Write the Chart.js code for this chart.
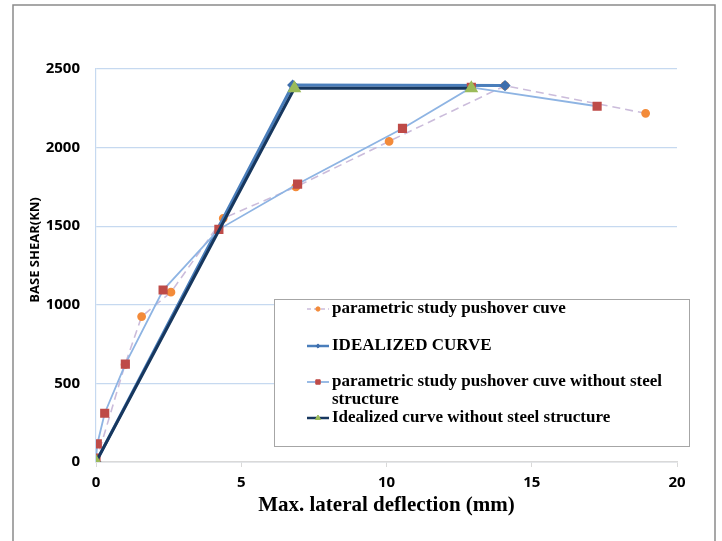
<!DOCTYPE html>
<html>
<head>
<meta charset="utf-8">
<script src="https://cdn.jsdelivr.net/npm/chart.js@4/dist/chart.umd.min.js"></script>
<style>
  html, body { margin: 0; padding: 0; background: #fff; }
  #pushoverChart { display: block; }
</style>
</head>
<body>
<canvas id="pushoverChart" width="722" height="541"></canvas>
<script>
// values: deflection (mm) / base shear (kN)
const pushoverX = [0, 1.0, 1.57, 2.58, 4.38, 6.88, 10.09, 14.08, 18.92];
const pushoverY = [0, 620, 925, 1080, 1550, 1750, 2040, 2394, 2218];

const idealX = [0, 6.77, 14.08];
const idealY = [0, 2398, 2395];

const noSteelX = [0, 0.045, 0.3, 1.01, 2.31, 4.23, 6.94, 10.55, 12.92, 17.25];
const noSteelY = [25, 115, 310, 623, 1094, 1480, 1768, 2122, 2383, 2263];

const idealNoSteelX = [0, 6.83, 12.92];
const idealNoSteelY = [0, 2377, 2377];

const seriesNames = [
    'parametric study pushover cuve',
    'IDEALIZED CURVE',
    'parametric study pushover cuve without steel structure',
    'Idealized curve without steel structure'
];

const xTicks = [0, 5, 10, 15, 20];
const yTicks = [0, 500, 1000, 1500, 2000, 2500];

function toPoints(xs, ys) {
    return xs.map((x, i) => ({ x: x, y: ys[i] }));
}

// draws the frame, the y title and the boxed legend (Excel style)
const excelDecor = {
    id: 'excelDecor',
    afterDatasetsDraw(chart) {
        const ctx = chart.ctx;
        ctx.save();

        // outer frame
        ctx.strokeStyle = '#8a8a8a';
        ctx.lineWidth = 1.5;
        ctx.strokeRect(13, 5, 702, 620);

        // y axis title
        ctx.save();
        ctx.translate(35, 250);
        ctx.rotate(-Math.PI / 2);
        ctx.font = 'bold 13px "Open Sans"';
        ctx.fillStyle = '#000';
        ctx.textAlign = 'center';
        ctx.textBaseline = 'middle';
        ctx.fillText('BASE SHEAR(KN)', 0, 0);
        ctx.restore();

        // legend box
        const box = { left: 274, top: 299, right: 689, bottom: 446 };
        ctx.fillStyle = '#fff';
        ctx.fillRect(box.left, box.top, box.right - box.left, box.bottom - box.top);
        ctx.strokeStyle = '#a6a6a6';
        ctx.lineWidth = 1;
        ctx.strokeRect(box.left + 0.5, box.top + 0.5, box.right - box.left, box.bottom - box.top);

        const rowY = [309, 346, 382, 418];
        const textX = 332;
        const maxW = box.right - textX - 8;
        ctx.font = 'bold 17px "Liberation Serif"';
        ctx.textBaseline = 'middle';
        ctx.textAlign = 'left';

        chart.data.datasets.forEach((ds, i) => {
            const y = rowY[i];
            // line sample
            ctx.save();
            ctx.strokeStyle = ds.borderColor;
            ctx.lineWidth = Math.min(ds.borderWidth, 2.5);
            ctx.setLineDash(ds.borderDash ? [4, 3] : []);
            ctx.beginPath();
            ctx.moveTo(307, y);
            ctx.lineTo(329, y);
            ctx.stroke();
            ctx.restore();
            // marker
            ctx.save();
            ctx.fillStyle = ds.pointBackgroundColor;
            ctx.strokeStyle = ds.pointBorderColor;
            Chart.helpers.drawPoint(ctx, {
                pointStyle: ds.pointStyle,
                radius: ds.pointRadius * 0.6,
                rotation: 0,
                borderWidth: 1
            }, 318, y);
            ctx.restore();

            // label, wrapped to the box width
            ctx.fillStyle = '#000';
            const words = ds.label.split(' ');
            let line = '';
            let ly = y;
            words.forEach(w => {
                const test = line ? line + ' ' + w : w;
                if (ctx.measureText(test).width > maxW && line) {
                    ctx.fillText(line, textX, ly);
                    line = w;
                    ly += 18;
                } else {
                    line = test;
                }
            });
            ctx.fillText(line, textX, ly);
        });

        ctx.restore();
    }
};

const ctx = document.getElementById('pushoverChart').getContext('2d');

new Chart(ctx, {
    type: 'scatter',
    data: {
        datasets: [{
            label: seriesNames[0],
            data: toPoints(pushoverX, pushoverY),
            showLine: true,
            borderColor: '#cbbcdb',
            borderWidth: 1.6,
            borderDash: [8, 5],
            pointStyle: 'circle',
            pointRadius: 3.6,
            pointBackgroundColor: '#f38b3a',
            pointBorderColor: '#f38b3a',
            order: 4
        }, {
            label: seriesNames[1],
            data: toPoints(idealX, idealY),
            showLine: true,
            borderColor: '#4a7ebb',
            borderWidth: 3,
            pointStyle: 'rectRot',
            pointRadius: 3.5,
            pointBackgroundColor: '#3f6fad',
            pointBorderColor: '#3f6fad',
            order: 3
        }, {
            label: seriesNames[2],
            data: toPoints(noSteelX, noSteelY),
            showLine: true,
            borderColor: '#8eb4e3',
            borderWidth: 1.8,
            pointStyle: 'rect',
            pointRadius: 5.2,
            pointBackgroundColor: '#be4b48',
            pointBorderColor: '#be4b48',
            order: 2
        }, {
            label: seriesNames[3],
            data: toPoints(idealNoSteelX, idealNoSteelY),
            showLine: true,
            borderColor: '#17375e',
            borderWidth: 3,
            pointStyle: 'triangle',
            pointRadius: 5,
            pointBackgroundColor: '#9bbb59',
            pointBorderColor: '#9bbb59',
            order: 1
        }]
    },
    options: {
        responsive: false,
        animation: false,
        layout: {
            padding: { left: 0, top: 69, right: 45, bottom: 0 }
        },
        plugins: {
            legend: { display: false },
            tooltip: { enabled: false }
        },
        elements: {
            line: { tension: 0 }
        },
        scales: {
            x: {
                type: 'linear',
                min: xTicks[0],
                max: xTicks[xTicks.length - 1],
                afterFit: (scale) => { scale.height = 79; },
                afterBuildTicks: (scale) => { scale.ticks = xTicks.map(v => ({ value: v })); },
                grid: {
                    drawOnChartArea: false,
                    drawTicks: true,
                    tickLength: 5,
                    color: '#d9d9d9'
                },
                border: { color: '#d9d9d9', width: 1.5 },
                ticks: {
                    padding: 7,
                    color: '#000',
                    font: { family: '"Open Sans"', size: 15, weight: 'bold' },
                    callback: (v) => String(v)
                },
                title: {
                    display: true,
                    text: 'Max. lateral deflection (mm)',
                    color: '#000',
                    font: { family: '"Liberation Serif"', size: 21, weight: 'bold' },
                    padding: { top: 0, bottom: 23 }
                }
            },
            y: {
                type: 'linear',
                min: yTicks[0],
                max: yTicks[yTicks.length - 1],
                afterFit: (scale) => { scale.width = 96; },
                afterBuildTicks: (scale) => { scale.ticks = yTicks.map(v => ({ value: v })); },
                grid: {
                    drawTicks: false,
                    color: '#c6d9f0',
                    lineWidth: 1.2
                },
                border: { color: '#c6d9f0', width: 1.2 },
                ticks: {
                    padding: 16,
                    color: '#000',
                    font: { family: '"Open Sans"', size: 15, weight: 'bold' },
                    callback: (v) => String(v)
                }
            }
        }
    },
    plugins: [excelDecor]
});
</script>
</body>
</html>
